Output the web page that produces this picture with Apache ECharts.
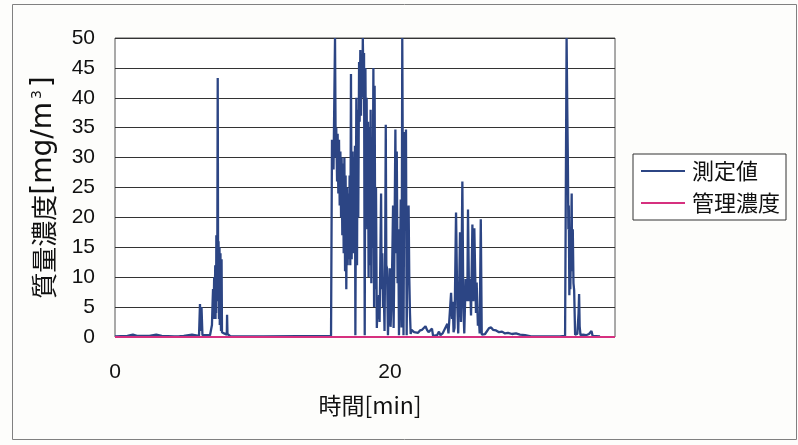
<!DOCTYPE html>
<html>
<head>
<meta charset="utf-8">
<script src="https://cdn.jsdelivr.net/npm/echarts@6/dist/echarts.min.js"></script>
<style>
  html, body { margin: 0; padding: 0; background: #fdfdfb; }
  #chart { width: 798px; height: 445px; }
</style>
</head>
<body>
<div id="chart"></div>
<script>
// Elapsed time of each reading [min]
const minutes = [
  0.00, 0.90, 1.00, 1.30, 1.60, 2.50, 2.60, 3.00, 3.40, 4.30, 4.40, 4.60, 5.00, 5.60, 5.70,
  6.11, 6.18, 6.24, 6.29, 6.36, 6.91, 7.05, 7.10, 7.13, 7.17, 7.21, 7.24, 7.26, 7.29, 7.31,
  7.33, 7.35, 7.37, 7.40, 7.42, 7.44, 7.47, 7.50, 7.53, 7.55, 7.56, 7.58, 7.60, 7.62, 7.64,
  7.65, 7.67, 7.69, 7.71, 7.73, 7.75, 7.78, 7.85, 7.93, 8.00, 8.13, 8.15, 8.18, 8.22, 8.29,
  8.40, 9.10, 9.12, 9.15, 10.80, 10.82, 10.85, 15.71,
  15.78, 15.89, 16.00, 16.05, 16.09, 16.15, 16.19, 16.24, 16.29, 16.34, 16.39, 16.44, 16.48,
  16.53, 16.58, 16.63, 16.68, 16.73, 16.77, 16.82, 16.87, 16.92, 16.97, 17.02, 17.06, 17.11,
  17.16, 17.21, 17.27, 17.31, 17.35, 17.40, 17.45, 17.48, 17.55, 17.60, 17.64, 17.69, 17.75,
  17.79, 17.84, 17.89, 17.93, 17.99, 18.02, 18.07, 18.11, 18.16, 18.21, 18.25, 18.30, 18.35,
  18.40, 18.44, 18.49, 18.55, 18.59, 18.64, 18.69, 18.73, 18.79, 18.84, 18.88, 18.93, 18.98,
  19.04, 19.10, 19.15, 19.20, 19.24, 19.29, 19.35, 19.39, 19.44, 19.49, 19.53, 19.60, 19.65,
  19.69, 19.73, 19.78, 19.85, 19.93, 19.98, 20.04, 20.11, 20.17, 20.22, 20.26, 20.31, 20.39,
  20.44, 20.49, 20.55, 20.60, 20.65, 20.73, 20.78, 20.84, 20.89, 20.95, 20.98, 21.05, 21.11,
  21.16, 21.21, 21.27, 21.35, 21.40, 21.45, 21.50, 21.56, 21.64, 21.75, 21.89, 22.04, 22.18,
  22.33, 22.47, 22.58, 22.69, 22.80, 22.91, 23.05, 23.13, 23.27, 23.42, 23.56, 23.67, 23.82,
  23.88, 24.17, 24.25, 24.36, 24.44, 24.51, 24.56, 24.62, 24.69, 24.80, 24.89, 24.96, 25.03,
  25.09, 25.16, 25.26, 25.33, 25.40, 25.47, 25.50, 25.58, 25.62, 25.67, 25.75, 25.82, 25.89,
  25.99, 26.06, 26.13, 26.20, 26.25, 26.30, 26.39, 26.45, 26.52, 26.60, 26.67, 26.76, 26.91,
  27.05, 27.20, 27.35, 27.49, 27.71, 27.93, 28.15, 28.36, 28.58, 28.87, 29.16, 29.45, 29.82,
  30.25, 32.36, 32.73,
  32.84, 32.89, 32.93, 32.97, 33.00, 33.04, 33.08, 33.11, 33.16, 33.21, 33.24, 33.29, 33.34,
  33.39, 33.46, 33.55, 33.62, 33.71, 33.75, 33.79, 33.85, 34.04, 34.25, 34.47, 34.65, 34.73,
  35.27
];

// Measured mass concentration [mg/m3]
const massConc = [
  0.1, 0.2, 0.5, 0.4, 0.2, 0.2, 0.5, 0.4, 0.2, 0.1, 0.4, 0.1, 0.2, 0.4, 0.1,
  0.2, 5.5, 1.0, 5.0, 0.3, 0.3, 2, 6, 8, 3, 10, 4, 7, 12, 3,
  9, 4, 17, 6, 15, 14, 43.3, 8, 16, 5, 3, 14, 15, 2, 11,
  2, 14, 3, 1, 12, 13, 0.8, 0.5, 0.6, 0.3, 0.4, 3.7, 0.5, 0.3, 0.5,
  0.1, 0.1, 0.3, 0.1, 0.1, 0.4, 0.1, 0.2,
  33, 28, 50, 30, 35, 26, 34, 24, 33, 22, 31, 20, 30,
  17, 29, 14, 30, 11, 27, 8, 25, 12, 24, 13, 27, 12,
  44, 13, 31, 14, 30, 18, 32, 0.3, 40, 12, 38, 20, 46,
  36, 48, 37, 46, 40, 50, 42, 47.5, 0.3, 45, 30, 40, 18,
  36, 10, 35, 12, 38, 9, 30, 15, 45, 5, 42, 8, 25,
  1.5, 6, 3, 7, 2.5, 12, 24, 8, 14, 5, 10, 1, 15,
  35.5, 12, 11.5, 0.3, 8, 11.5, 1.7, 6, 14, 22, 1.5, 12, 34.7,
  14, 31, 9, 18, 0.3, 12, 23, 1.6, 50, 18, 0.3, 34.3, 18,
  34.7, 0.3, 16, 22, 10, 4, 0.5, 1.2, 1.0, 0.8, 1.0, 0.7, 1.1,
  1.2, 1.5, 1.8, 1.2, 0.8, 0.5, 1.4, 0.2, 0.5, 0.3, 0.9, 0.3, 0.6,
  0.8, 2.2, 0.6, 0.5, 7.4, 3, 5.9, 0.8, 1.5, 20.8, 5.5, 0.6, 8,
  17.5, 2.5, 26, 5.5, 0.6, 7, 9.7, 10, 6, 21.3, 6, 9.7, 3.6,
  18.8, 6, 18.2, 9.7, 4, 9.1, 1.9, 3.6, 0.6, 19.7, 0.4, 0.3, 0.5,
  0.8, 1.5, 1.6, 1.2, 1.1, 0.8, 0.9, 0.6, 0.7, 0.5, 0.6, 0.4, 0.3,
  0.1, 0.1, 0.2,
  50, 38, 30, 18, 22, 7, 12, 8, 15, 24, 11, 18, 9,
  7.8, 0.4, 0.3, 0.5, 4, 7.2, 1.8, 0.3, 0.4, 0.3, 0.5, 1.0, 0.2,
  0.1
];

// Control concentration reference line
const limitMinutes = [0, 36.36];
const limitConc = [0, 0];

// Axis ranges and labelled ticks
const xMax = 36.36;
const xTickLabels = [0, 20];
const yMax = 50;
const yStep = 5;

const measured = minutes.map((t, i) => [t, massConc[i]]);
const limit = limitMinutes.map((t, i) => [t, limitConc[i]]);

const numFont = '"Liberation Sans", Arial, sans-serif';
const jpFont = '"Noto Sans CJK JP", sans-serif';
const wideLatin = '"DejaVu Sans", sans-serif';

const chart = echarts.init(document.getElementById('chart'), null, { renderer: 'canvas' });
chart.setOption({
  backgroundColor: '#fdfdfb',
  animation: false,
  graphic: [{
    type: 'rect',
    shape: { x: 12.5, y: 4.5, width: 784, height: 435 },
    style: { fill: 'none', stroke: '#808080', lineWidth: 1 },
    z: -1
  }],
  grid: {
    left: 115, top: 38, width: 500, height: 299,
    show: true, backgroundColor: '#ffffff', borderColor: '#555555', borderWidth: 1
  },
  legend: {
    orient: 'vertical',
    left: 633, top: 154,
    padding: [6, 6, 6, 8],
    itemGap: 10,
    itemWidth: 44, itemHeight: 2,
    borderColor: '#333333', borderWidth: 1,
    backgroundColor: '#ffffff',
    textStyle: { fontFamily: jpFont, fontSize: 22, color: '#111111', padding: [0, 0, 0, 2] },
    data: [
      { name: '測定値', icon: 'rect' },
      { name: '管理濃度', icon: 'rect' }
    ]
  },
  xAxis: {
    type: 'value',
    min: 0, max: xMax, interval: 20,
    name: '時間[min]',
    nameLocation: 'middle',
    nameGap: 57,
    nameTextStyle: { fontFamily: jpFont, fontSize: 23, color: '#111111', padding: [0, 0, 0, 10] },
    axisLine: { show: false },
    axisTick: { show: false },
    splitLine: { show: false },
    axisLabel: {
      margin: 25,
      fontFamily: numFont, fontSize: 21, color: '#111111',
      formatter: v => (xTickLabels.includes(v) ? String(v) : '')
    }
  },
  yAxis: {
    type: 'value',
    min: 0, max: yMax, interval: yStep,
    name: '{cj|質量濃度}{lt|[mg/m}{sup|3}{lt|]}',
    nameLocation: 'middle',
    nameGap: 57,
    nameTextStyle: {
      color: '#111111',
      rich: {
        cj: { fontFamily: jpFont, fontSize: 26, color: '#111111' },
        lt: { fontFamily: wideLatin, fontSize: 28, color: '#111111' },
        sup: { fontFamily: wideLatin, fontSize: 14, color: '#111111', verticalAlign: 'top', padding: [0, 3, 13, 3] }
      }
    },
    axisLine: { show: false },
    axisTick: { show: false },
    splitLine: { lineStyle: { color: '#333333', width: 1 } },
    axisLabel: { margin: 20, fontFamily: numFont, fontSize: 21, color: '#111111' }
  },
  series: [
    {
      name: '測定値',
      type: 'line',
      data: measured,
      symbol: 'none',
      clip: true,
      lineStyle: { color: '#2c4584', width: 2.3 },
      itemStyle: { color: '#2c4584' },
      z: 3
    },
    {
      name: '管理濃度',
      type: 'line',
      data: limit,
      symbol: 'none',
      clip: false,
      lineStyle: { color: '#d6307f', width: 2 },
      itemStyle: { color: '#d6307f' },
      z: 4
    }
  ]
});
</script>
</body>
</html>
